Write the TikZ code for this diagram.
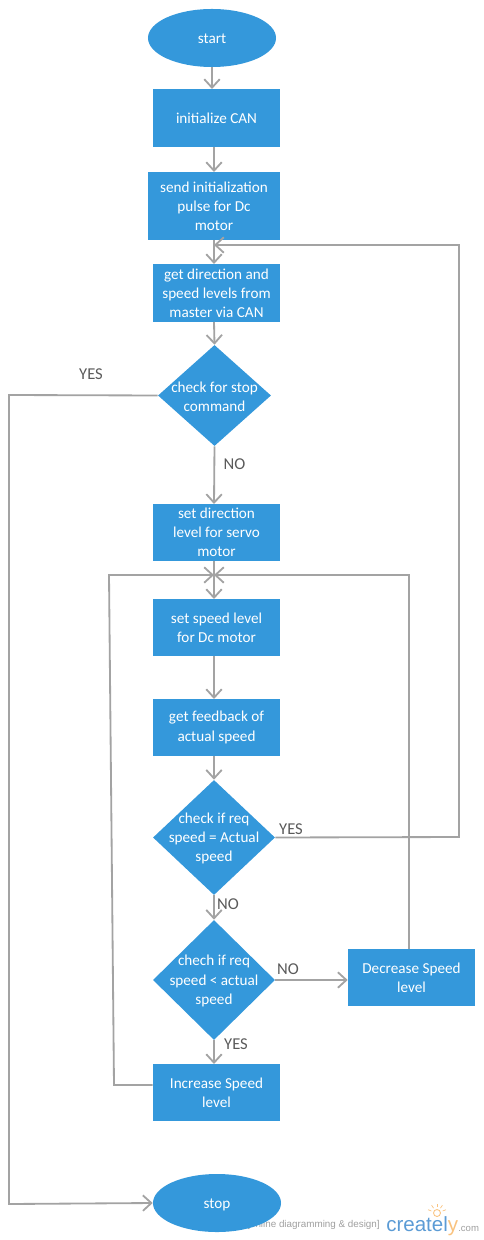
\documentclass[tikz,border=0pt]{standalone}
\usepackage{fontspec}
\setmainfont{Carlito}
\newfontfamily\logofont{Liberation Sans}
\usepackage{tikz}
\usetikzlibrary{positioning,arrows.meta,shapes.geometric}
\definecolor{boxblue}{HTML}{3498DB}
\definecolor{linegray}{HTML}{A3A3A3}
\definecolor{labelgray}{HTML}{5A5A5A}
\definecolor{logoblue}{HTML}{5B9BD5}
\definecolor{logoorange}{HTML}{F9C27E}

\begin{document}
\begin{tikzpicture}[
  x=0.025cm, y=-0.025cm,
  box/.style={rectangle, fill=boxblue, text=white, minimum width=3.175cm, minimum height=1.425cm,
              inner sep=1pt, align=center, font=\fontsize{10.8}{13.6}\selectfont},
  term/.style={ellipse, fill=boxblue, text=white, minimum width=3.2cm, minimum height=1.45cm,
               inner sep=0pt, text height=8pt, text depth=0pt, font=\fontsize{10.8}{13.6}\selectfont},
  dec/.style={diamond, fill=boxblue, inner sep=0pt},
  dectxt/.style={text=white, align=center, yshift=-0.7pt, font=\fontsize{10.8}{13.6}\selectfont},
  ar/.style={-{Straight Barb[length=6pt,width=11pt]}, line width=1.3pt, linegray},
  lb/.style={font=\fontsize{11.8}{13}\selectfont, text=labelgray, inner sep=0pt}
]
\useasboundingbox (0,0) rectangle (484,1240);

% watermark sits under the stop node
\node[font=\logofont\fontsize{7}{8}\selectfont, text=gray!75, inner sep=0pt] (tagline) at (313.5,1225) {[online diagramming \& design]};
\node[font=\logofont\fontsize{14.6}{16}\selectfont, text=logoblue, inner sep=0pt, anchor=base west] (logo) at (386,1231) {createl\textcolor{logoorange}{y}};
\node[font=\logofont\fontsize{6.8}{8}\selectfont, text=gray!75, inner sep=0pt, anchor=base west] (logodom) at (458,1231) {.com};
\draw[logoorange, line width=0.6pt] (437,1213) circle (3.5);
\foreach \a in {-160,-125,-90,-55,-20}
  \draw[logoorange, line width=0.5pt] (437,1213) ++(\a:6) -- ++(\a:3.5);

\node[term] (start) at (212,38) {start};
\node[box] (init) at (216.5,118) {initialize CAN};
\node[box, minimum width=3.3cm, minimum height=1.7cm] (pulse) at (214,206) {send initialization\\pulse for Dc\\motor};
\node[box] (getdir) at (216.5,293) {get direction and\\speed levels from\\master via CAN};
\node[dec, minimum width=2.825cm, minimum height=2.525cm, label={[dectxt]center:{check for stop\\command}}] (stopchk) at (214.5,395.5) {};
\node[box] (setdir) at (216.5,532.5) {set direction\\level for servo\\motor};
\node[box] (setspd) at (216.5,627.5) {set speed level\\for Dc motor};
\node[box] (feedback) at (216.5,727.5) {get feedback of\\actual speed};
\node[dec, minimum width=3.05cm, minimum height=2.875cm, label={[dectxt]center:{check if req\\speed = Actual\\speed}}] (reqchk) at (214,837.5) {};
\node[dec, minimum width=3.05cm, minimum height=3cm, label={[dectxt]center:{chech if req\\speed < actual\\speed}}] (ltchk) at (214,980) {};
\node[box] (decr) at (411.5,977.5) {Decrease Speed\\level};
\node[box] (incr) at (216.5,1092.5) {Increase Speed\\level};
\node[term] (stop) at (217,1203) {stop};

\coordinate (mergetop) at (214,245);
\coordinate (mergeloop) at (214,575);
\coordinate (rtop) at (459,245);
\coordinate (rbot) at (459,837);
\coordinate (lstop) at (9,395);
\coordinate (lbot) at (9,1204);
\coordinate (dectop) at (409,575);
\coordinate (incl) at (114,1085);
\coordinate (inct) at (109,575);

\draw[ar] (212,67) -- (212,89);
\draw[ar] (214,147) -- (214,172);
\draw[ar] (214,240) -- (214,264);
\draw[ar] (214,322) -- (stopchk.north);
\draw[ar] (stopchk.south) -- node[lb, pos=0.31, right=6pt] (no1) {NO} (214,504);
\draw[ar] (214,561) -- (214,599);
\draw[ar] (214,656) -- (214,699);
\draw[ar] (214,756) -- (reqchk.north);
\draw[ar] (reqchk.south) -- (ltchk.north);
\draw[ar] (ltchk.south) -- (214,1064);
\draw[ar] (ltchk.east) -- (decr.west |- ltchk.east);
\draw[ar] (reqchk.east) -- (rbot) -- (rtop) -- (mergetop);
\draw[ar] (stopchk.west) -- (lstop) -- (lbot) -- (stop.west);
\draw[ar] (decr.north -| dectop) -- (dectop) -- (mergeloop);
\draw[ar] (incr.west |- incl) -- (incl) -- (inct) -- (mergeloop);

\node[lb] (yes1) at (91,374) {YES};
\node[lb] (yes2) at (291,829) {YES};
\node[lb] (no2) at (228,904) {NO};
\node[lb] (no3) at (288,969) {NO};
\node[lb] (yes3) at (236,1044) {YES};
\end{tikzpicture}
\end{document}
